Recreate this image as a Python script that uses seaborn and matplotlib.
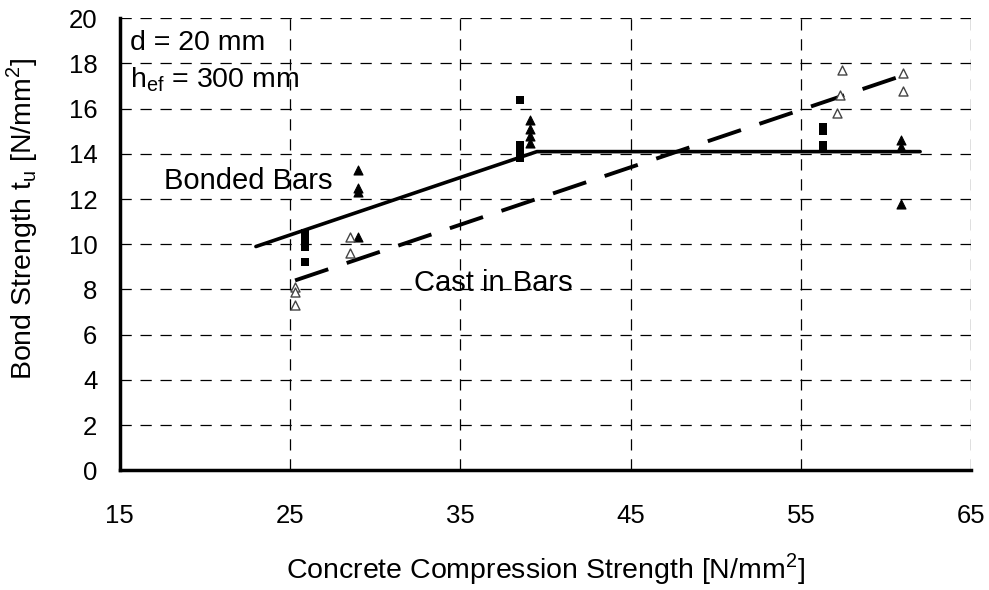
import matplotlib
matplotlib.use("Agg")
import matplotlib.pyplot as plt
import seaborn as sns

# Test results: concrete strength fc [N/mm2] vs bond strength tu [N/mm2]
sq_x = [25.9, 25.9, 25.9, 25.9, 25.9, 38.5, 38.5, 38.5, 38.5, 38.5, 56.3, 56.3, 56.3, 56.3]
sq_y = [10.5, 10.3, 10.1, 9.9, 9.2, 16.4, 14.4, 14.2, 14.0, 13.8, 15.2, 15.0, 14.4, 14.2]

tri_filled_x = [29.0, 29.0, 29.0, 29.0, 39.1, 39.1, 39.1, 39.1, 60.9, 60.9, 60.9]
tri_filled_y = [13.3, 12.5, 12.3, 10.3, 15.5, 15.1, 14.8, 14.5, 14.6, 14.3, 11.8]

tri_open_x = [25.3, 25.3, 25.3, 28.5, 28.5, 57.4, 57.3, 57.1, 61.0, 61.0]
tri_open_y = [8.1, 7.9, 7.3, 10.3, 9.6, 17.7, 16.6, 15.8, 17.6, 16.8]

# Model curves
bonded_x = [23.0, 39.5, 62.0]
bonded_y = [9.9, 14.1, 14.1]
cast_x = [25.3, 61.5]
cast_y = [8.4, 17.6]

x_ticks = [15, 25, 35, 45, 55, 65]
y_ticks = list(range(0, 21, 2))

sns.set_theme(style="white")
plt.rcParams["font.family"] = ["Liberation Sans", "DejaVu Sans"]
plt.rcParams["mathtext.fontset"] = "custom"
plt.rcParams["mathtext.rm"] = "Liberation Sans"
plt.rcParams["text.color"] = "black"
plt.rcParams["axes.labelcolor"] = "black"

fig = plt.figure(figsize=(9.89, 5.90), dpi=100)
ax = fig.add_axes([0.121, 0.203, 0.861, 0.766])

sns.lineplot(x=bonded_x, y=bonded_y, ax=ax, color="black", lw=2.6, sort=False)
sns.lineplot(x=cast_x, y=cast_y, ax=ax, color="black", lw=2.8, sort=False)
ax.lines[-1].set_dashes([9, 5])

sns.scatterplot(x=sq_x, y=sq_y, ax=ax, marker="s", s=30, color="black",
                edgecolor="black", linewidth=0, zorder=5)
sns.scatterplot(x=tri_filled_x, y=tri_filled_y, ax=ax, marker="^", s=42,
                color="black", edgecolor="black", linewidth=0.8, zorder=5)
sns.scatterplot(x=tri_open_x, y=tri_open_y, ax=ax, marker="^", s=42,
                facecolor="white", edgecolor="#444444", linewidth=1.0, zorder=5)

ax.set_xlim(15, 65)
ax.set_ylim(0, 20)
ax.set_xticks(x_ticks)
ax.set_yticks(y_ticks)
ax.tick_params(axis="both", labelsize=18.5, colors="black")
ax.tick_params(axis="x", direction="inout", length=10, width=2, pad=19)
ax.tick_params(axis="y", direction="out", length=5, width=1.5, pad=11)

ax.grid(True, color="black", linestyle=(0, (9, 7)), linewidth=0.9)
ax.set_axisbelow(True)
for side in ["top", "right"]:
    ax.spines[side].set_visible(False)
for side in ["left", "bottom"]:
    ax.spines[side].set_color("black")
    ax.spines[side].set_linewidth(2.5)

ax.set_xlabel(r"Concrete Compression Strength [N/mm$^{\mathregular{2}}$]",
              fontsize=20.5, color="black")
ax.set_ylabel(r"Bond Strength t$_{\mathregular{u}}$ [N/mm$^{\mathregular{2}}$]",
              fontsize=20.5, color="black")
ax.xaxis.set_label_coords(0.5, -0.178)
ax.yaxis.set_label_coords(-0.093, 0.557)

ax.text(15.6, 18.9, "d = 20 mm", fontsize=20.5, va="center", ha="left",
        color="black")
ax.text(15.6, 17.3, r"h$_{\mathregular{ef}}$ = 300 mm", fontsize=20.5,
        va="center", ha="left", color="black")
ax.text(17.6, 12.8, "Bonded Bars", fontsize=21, va="center", ha="left",
        color="black")
ax.text(32.3, 8.3, "Cast in Bars", fontsize=21, va="center", ha="left",
        color="black")

fig.savefig("out.png", dpi=100, facecolor="white")
